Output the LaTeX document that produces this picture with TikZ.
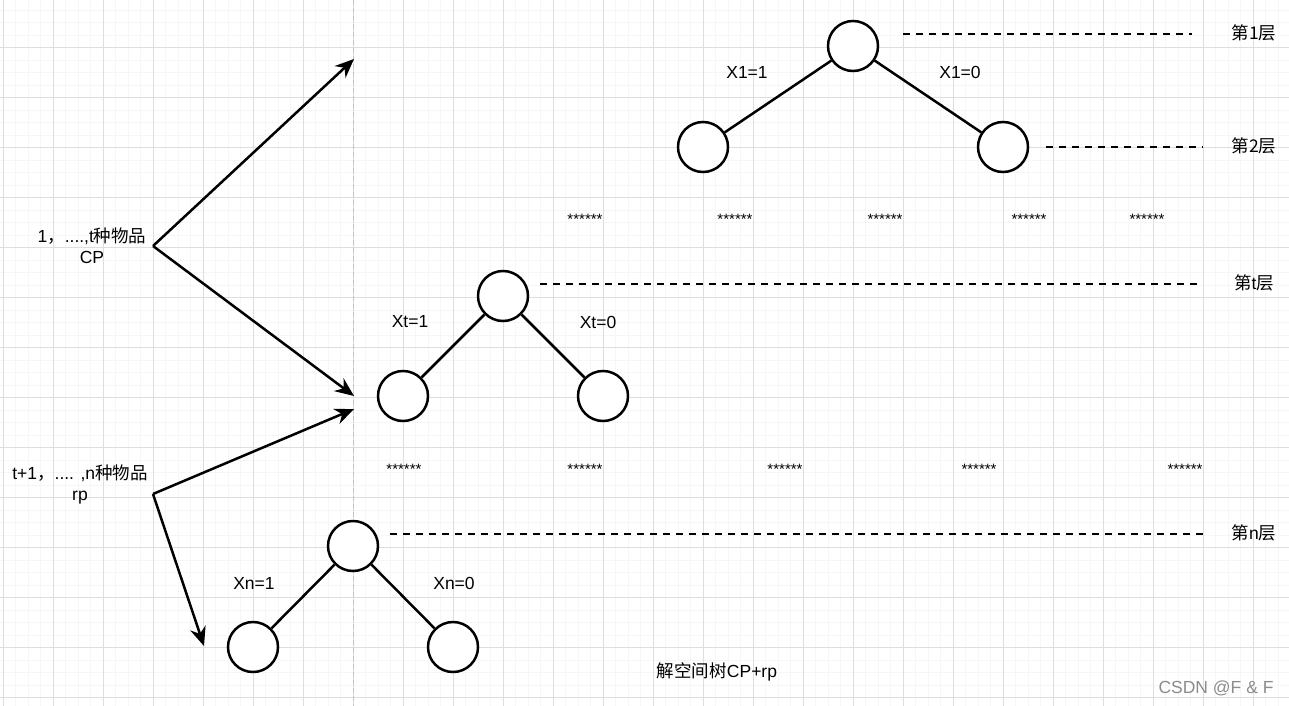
\documentclass[tikz,border=0pt]{standalone}
\usepackage{fontspec}
\setmainfont{Liberation Sans}
\newfontfamily\cjk{Noto Sans CJK SC}
\usetikzlibrary{arrows.meta}
\definecolor{gminor}{HTML}{F6F6F6}
\definecolor{gmajor}{HTML}{DEDEDE}
\definecolor{vline}{HTML}{C4C4C4}
\tikzset{
  treenode/.style={circle,draw=black,line width=2.5pt,minimum size=50pt,inner sep=0pt,fill=white},
  edge/.style={line width=2.5pt,draw=black},
  arr/.style={line width=2.5pt,draw=black,-{Stealth[length=19pt,width=16pt]}},
  level/.style={line width=2.5pt,draw=black,dash pattern=on 7pt off 6pt},
  lbl/.style={font=\fontsize{17.5}{21}\selectfont,inner sep=1pt},
  stars/.style={font=\fontsize{15}{18}\selectfont,inner sep=0pt},
  lay/.style={font=\fontsize{17.5}{21}\selectfont\cjk,inner sep=1pt}
}
\begin{document}
\begin{tikzpicture}[x=1pt,y=-1pt]
\useasboundingbox (0,0) rectangle (1289,706);
\fill[white] (0,0) rectangle (1289,706);
% grid
\foreach \i in {0,...,103} {\draw[gminor,line width=1pt] ({3.3+12.5*\i},0) -- ({3.3+12.5*\i},706);}
\foreach \i in {0,...,57} {\draw[gminor,line width=1pt] (0,{10.2+12.5*\i}) -- (1289,{10.2+12.5*\i});}
\foreach \i in {0,...,25} {\draw[gmajor,line width=1pt] ({3.3+50*\i},0) -- ({3.3+50*\i},706);}
\foreach \i in {0,...,14} {\draw[gmajor,line width=1pt] (0,{47.7+50*\i}) -- (1289,{47.7+50*\i});}
% vertical dashed line
\draw[vline,line width=1pt,dash pattern=on 5pt off 3pt] (353,0) -- (353,706);

% top tree
\node[treenode] (r1) at (853,46) {};
\node[treenode] (a1) at (703,147) {};
\node[treenode] (b1) at (1003,147) {};
\draw[edge] (r1) -- (a1);
\draw[edge] (r1) -- (b1);
\node[lbl] (la1) at (747,72) {X1=1};
\node[lbl] (lb1) at (960,72) {X1=0};
\coordinate (d1s) at (903,34); \coordinate (d1e) at (1192,34);
\draw[level] (d1s) -- (d1e);
\coordinate (d2s) at (1046,147); \coordinate (d2e) at (1203,147);
\draw[level] (d2s) -- (d2e);
\node[lay] (L1) at (1254,33) {第1层};
\node[lay] (L2) at (1254,146) {第2层};

% stars row 1
\foreach \x/\n in {585/s1,735/s2,885/s3,1029/s4,1147/s5} {\node[stars] (\n) at (\x,219) {******};}

% middle tree
\node[treenode] (rt) at (503,296) {};
\node[treenode] (at) at (403,396) {};
\node[treenode] (bt) at (603,396) {};
\draw[edge] (rt) -- (at);
\draw[edge] (rt) -- (bt);
\node[lbl] (lat) at (410,322) {Xt=1};
\node[lbl] (lbt) at (598,322) {Xt=0};
\coordinate (dts) at (540,284); \coordinate (dte) at (1203,284);
\draw[level] (dts) -- (dte);
\node[lay] (Lt) at (1254,283) {第{\rmfamily t}层};

% stars row 2
\foreach \x/\n in {404/u1,585/u2,785/u3,979/u4,1185/u5} {\node[stars] (\n) at (\x,469) {******};}

% bottom tree
\node[treenode] (rn) at (353,546) {};
\node[treenode] (an) at (253,647) {};
\node[treenode] (bn) at (453,647) {};
\draw[edge] (rn) -- (an);
\draw[edge] (rn) -- (bn);
\node[lbl] (lan) at (254,583) {Xn=1};
\node[lbl] (lbn) at (454,583) {Xn=0};
\coordinate (dns) at (390,534); \coordinate (dne) at (1203,534);
\draw[level] (dns) -- (dne);
\node[lay] (Ln) at (1254,533) {第{\rmfamily n}层};

% left texts and arrows
\node[lbl,align=center] (cp) at (92,246) {1{\cjk ，}....,t{\cjk 种物品}\\[0pt]CP};
\node[lbl,align=center] (rp) at (80,484) {t+1{\cjk ，}.... ,n{\cjk 种物品}\\[0pt]rp};
\coordinate (o1) at (153,246);
\coordinate (o2) at (153,494);
\coordinate (t1) at (354,59);
\coordinate (t2) at (354,396);
\coordinate (t3) at (354,409);
\coordinate (t4) at (204,646);
\draw[arr] (o1) -- (t1);
\draw[arr] (o1) -- (t2);
\draw[arr] (o2) -- (t3);
\draw[arr] (o2) -- (t4);

\node[lbl] (cap) at (717,672) {{\cjk 解空间树}CP+rp};
\node[font=\fontsize{17.5}{21}\selectfont,text=black!45] (wm) at (1216,688) {CSDN @F \& F};
\end{tikzpicture}
\end{document}
